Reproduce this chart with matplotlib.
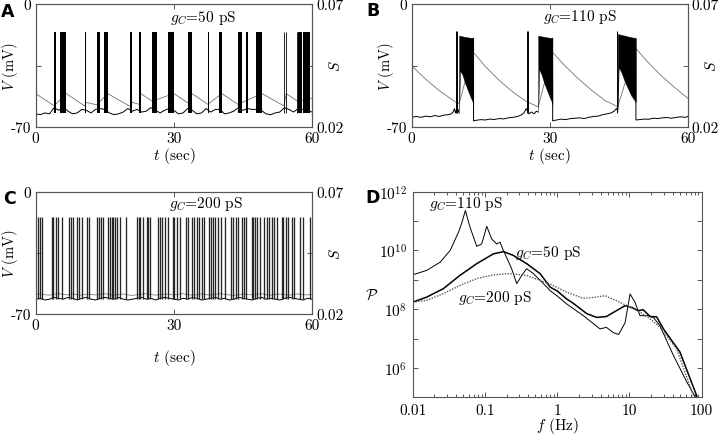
import matplotlib
matplotlib.use('Agg')
import matplotlib.pyplot as plt
import numpy as np

plt.rcParams['mathtext.fontset'] = 'cm'
plt.rcParams['font.family'] = 'cmr10'
plt.rcParams['axes.formatter.use_mathtext'] = True
plt.rcParams['font.size'] = 11
plt.rcParams['axes.edgecolor'] = '#555555'
plt.rcParams['axes.linewidth'] = 0.8
plt.rcParams['xtick.color'] = '#555555'
plt.rcParams['ytick.color'] = '#555555'
plt.rcParams['xtick.labelcolor'] = 'black'
plt.rcParams['ytick.labelcolor'] = 'black'

# ---------------- panel A (gC = 50 pS) ----------------
t_A = list(range(61))
base_A = [-62.5, -63.0, -62.0, -62.5, -59.0, -60.5, -58.5, -61.0, -62.5, -62.0,
          -60.0, -60.5, -62.0, -60.0, -59.5, -60.0, -62.0, -63.0, -62.5, -61.5,
          -59.5, -61.0, -60.0, -61.5, -61.0, -59.0, -60.5, -62.0, -60.5, -59.5,
          -60.5, -62.5, -62.0, -59.5, -60.5, -62.5, -62.0, -59.5, -61.5, -60.0,
          -60.0, -62.5, -62.0, -61.0, -59.0, -60.5, -59.5, -60.0, -60.0, -60.5,
          -62.5, -63.0, -62.0, -61.5, -59.0, -60.0, -61.5, -59.5, -60.0, -60.5, -61.5]
burst_A_start = [4.0, 5.3, 10.6, 13.3, 14.8, 20.5, 22.5, 25.3, 28.8, 33.1, 37.4,
                 39.7, 43.9, 45.7, 47.8, 57.0, 58.1]
burst_A_end = [4.4, 6.6, 11.0, 13.9, 15.6, 21.0, 22.8, 26.3, 30.0, 33.9, 37.7,
               40.4, 44.8, 46.1, 49.1, 57.8, 59.5]
spikes_A = [53.9, 54.4, 56.8]
tS_A = [0, 4.0, 6.6, 10.6, 11.0, 13.3, 15.6, 20.5, 21.0, 22.5, 22.8, 25.3, 30.0,
        33.1, 33.9, 37.4, 40.4, 43.9, 49.1, 53.9, 54.4, 57.0, 59.5, 60]
S_A = [0.0336, 0.0286, 0.0336, 0.0286, 0.0300, 0.0290, 0.0336, 0.0284, 0.0300,
       0.0292, 0.0336, 0.0305, 0.0336, 0.0297, 0.0336, 0.0292, 0.0336, 0.0292,
       0.0336, 0.0286, 0.0336, 0.0303, 0.0318, 0.0315]

# ---------------- panel B (gC = 110 pS) ----------------
nan = np.nan
t_B = [0, 1, 2, 3, 4, 5, 6, 7, 8, 8.6, 9.0, 9.3, 9.5, 9.7, 9.9, 10.1, 10.3, nan,
       13.4, 13.45, 14, 15, 16, 17, 18, 19, 20, 21, 22, 23,
       23.8, 24.4, 24.9, 25.5, 26, 26.6, 27.1, 27.5, nan,
       30.6, 30.65, 31.5, 32.5, 33.5, 34.5, 35.5, 36.5, 37.5, 38.5, 39.5, 40.5, 41.5, 42.5,
       43.3, 44.0, 44.5, 44.8, nan,
       48.7, 48.75, 49.5, 50.5, 51.5, 52.5, 53.5, 54.5, 55.5, 56.5, 57.5, 58.5, 59.5, 60]
V_B = [-64.5, -64.0, -64.5, -63.8, -64.2, -63.5, -64.0, -63.2, -63.0,
       -62.5, -61.5, -59.5, -62.0, -60.5, -61.5, -60.0, -62.0, nan,
       -19.5, -66.5, -66.2, -65.8, -66.0, -65.5, -65.7, -65.2, -65.4, -64.8, -64.5, -64.0,
       -63.2, -62.0, -59.5, -62.5, -61.5, -62.5, -61.0, -61.5, nan,
       -19.5, -66.5, -66.0, -65.5, -65.8, -65.2, -65.0, -64.8, -65.2, -64.5, -64.0, -63.8, -63.0, -62.5,
       -62.0, -61.0, -59.5, -61.0, nan,
       -19.5, -66.0, -65.8, -65.5, -65.6, -65.0, -65.2, -64.8, -64.6, -65.0, -64.5, -64.2, -64.5, -64.0]
burst_B_t = [[10.3, 10.5, 11.0, 11.6, 12.2, 12.8, 13.3, 13.4],
             [27.5, 27.7, 28.2, 28.8, 29.4, 30.0, 30.5, 30.6],
             [44.8, 45.0, 45.6, 46.3, 47.0, 47.7, 48.5, 48.7]]
burst_B_hi = [[-18.0, -18.1, -18.4, -18.7, -19.0, -19.2, -19.3, -19.4],
              [-18.0, -18.1, -18.4, -18.7, -19.0, -19.2, -19.3, -19.4],
              [-17.0, -17.2, -17.6, -18.0, -18.5, -18.9, -19.3, -19.5]]
burst_B_lo = [[-62, -38, -40, -45, -49, -53, -56, -57],
              [-61, -37, -40, -45, -49, -53, -56, -57],
              [-60, -36, -39, -44, -48, -52, -55, -56]]
spikes_B = [9.6, 9.85, 25.0, 25.25, 44.6]
tS_B = [0, 3, 6, 9.4, 10.3, 13.4, 16, 19, 22, 25, 27.5, 30.6, 33, 36, 39, 42, 44.6, 44.8,
        48.7, 51, 54, 57, 60]
S_B = [0.0449, 0.0395, 0.0348, 0.0303, 0.0296, 0.0504, 0.0446, 0.0390, 0.0342, 0.0303,
       0.0282, 0.0504, 0.0455, 0.0400, 0.0351, 0.0308, 0.0284, 0.0283,
       0.0520, 0.0470, 0.0413, 0.0363, 0.0317]

# ---------------- panel C (gC = 200 pS) ----------------
t_C = list(range(61))
base_C = [-61.5, -61.0, -62.0, -61.5, -60.5, -61.0, -61.5, -60.5, -61.0, -62.0,
          -61.0, -60.5, -61.5, -62.0, -61.0, -60.5, -61.0, -61.5, -60.5, -61.5,
          -62.0, -61.5, -61.0, -60.5, -61.5, -61.0, -62.0, -61.0, -60.5, -61.0,
          -61.5, -62.0, -61.0, -61.5, -60.5, -61.0, -62.0, -61.5, -61.0, -60.5,
          -61.5, -61.0, -62.0, -61.5, -60.5, -61.0, -61.5, -62.0, -61.0, -60.5,
          -61.5, -61.0, -61.5, -62.0, -61.0, -60.5, -61.0, -61.5, -62.0, -61.0, -61.5]
S_C = [0.0280, 0.0282, 0.0279, 0.0277, 0.0281, 0.0283, 0.0280, 0.0278, 0.0282, 0.0279,
       0.0277, 0.0281, 0.0280, 0.0278, 0.0282, 0.0283, 0.0279, 0.0277, 0.0280, 0.0282,
       0.0278, 0.0276, 0.0279, 0.0281, 0.0283, 0.0280, 0.0277, 0.0279, 0.0282, 0.0280,
       0.0278, 0.0281, 0.0283, 0.0279, 0.0277, 0.0280, 0.0282, 0.0279, 0.0277, 0.0281,
       0.0283, 0.0280, 0.0278, 0.0276, 0.0279, 0.0282, 0.0280, 0.0278, 0.0281, 0.0283,
       0.0279, 0.0277, 0.0280, 0.0282, 0.0279, 0.0277, 0.0280, 0.0282, 0.0279, 0.0278, 0.0280]
spikes_C = [0.57, 0.93, 1.29, 3.46, 3.82, 4.4, 4.9, 5.6, 7.3, 7.66, 8.16, 8.9, 9.46, 9.97,
            11.2, 11.6, 13.2, 13.7, 14.2, 14.5, 15.6, 16.1, 16.5, 16.8, 17.2, 17.7, 18.3,
            19.5, 21.9, 22.3, 22.6, 23.2, 24.1, 24.4, 24.9, 26.6, 27.0, 27.5, 28.0, 28.6,
            29.7, 30.1, 30.6, 31.2, 32.6, 33.1, 33.8, 34.3, 34.9, 35.5, 36.0, 36.4, 37.7,
            38.0, 38.4, 38.9, 39.6, 40.3, 41.1, 42.4, 42.9, 43.4, 43.9, 44.7, 45.2, 45.6,
            46.9, 47.2, 47.6, 48.1, 48.7, 49.6, 50.1, 50.7, 51.2, 51.7, 52.3, 53.4, 53.7,
            54.3, 54.8, 55.5, 56.0, 57.3, 57.9, 59.5]

# ---------------- panel D: power spectra (log10 P) ----------------
f_110 = [0.01, 0.0156, 0.024, 0.033, 0.043, 0.048, 0.0536, 0.058, 0.0622, 0.0769, 0.09,
         0.106, 0.124, 0.1455, 0.162, 0.18, 0.234, 0.275, 0.323, 0.378, 0.468, 0.645,
         0.8, 1.0, 1.35, 2.3, 3.9, 4.8, 6.0, 7.1, 8.7, 10.2, 11.9, 14, 18.2, 21.4,
         26.4, 40.5, 62, 81, 90]
lp_110 = [9.17, 9.32, 9.60, 10.0, 10.62, 10.95, 11.36, 11.05, 10.79, 10.14, 10.22,
          10.82, 10.39, 10.22, 10.28, 10.0, 9.38, 8.87, 9.15, 9.38, 9.21, 8.87,
          8.63, 8.45, 8.18, 7.78, 7.33, 7.38, 7.2, 7.14, 7.54, 8.52, 8.24, 7.78, 7.78, 7.72,
          7.44, 6.43, 5.53, 5.02, 4.6]
f_50 = [0.01, 0.0156, 0.0266, 0.045, 0.077, 0.13, 0.18, 0.247, 0.378, 0.58, 0.8, 1.0,
        1.35, 1.67, 2.56, 3.5, 4.8, 6.6, 8.7, 11, 13.2, 15.5, 19.3, 23.8, 29.5, 50, 85, 92]
lp_50 = [8.24, 8.41, 8.70, 9.15, 9.55, 9.88, 9.96, 9.83, 9.55, 9.21, 8.75, 8.62,
         8.35, 8.2, 7.85, 7.72, 7.75, 7.95, 8.12, 8.05, 7.95, 7.98, 7.75, 7.74, 7.33,
         6.54, 5.06, 4.6]
f_200 = [0.01, 0.0156, 0.0266, 0.045, 0.077, 0.13, 0.22, 0.378, 0.58, 0.79, 1.35, 2.3,
         3.2, 4.6, 6.6, 10.2, 14, 19.3, 26.4, 45, 76.6, 85]
lp_200 = [8.24, 8.30, 8.53, 8.81, 9.04, 9.17, 9.21, 9.15, 8.98, 8.86, 8.58, 8.37,
          8.40, 8.46, 8.29, 8.07, 7.9, 7.67, 7.39, 6.65, 5.06, 4.6]

W, H = 720.0, 435.0
fig = plt.figure(figsize=(7.2, 4.35), dpi=100)


def box(x0, y0, x1, y1):
    return [x0 / W, 1 - y1 / H, (x1 - x0) / W, (y1 - y0) / H]


def trace_axes(rect, xlabpad):
    ax = fig.add_axes(rect)
    ax2 = ax.twinx()
    ax.set_zorder(ax2.get_zorder() + 1)
    ax.patch.set_visible(False)
    ax.set_xlim(0, 60)
    ax.set_ylim(-70, 0)
    ax.set_xticks([0, 30, 60])
    ax.set_xticklabels(['0', '30', '60'])
    ax.set_yticks([-70, -35, 0])
    ax.set_yticklabels(['-70', '', '0'])
    ax.tick_params(direction='in', top=True, length=3.5, width=0.7, pad=3)
    ax2.set_ylim(0.02, 0.07)
    ax2.set_yticks([0.02, 0.045, 0.07])
    ax2.set_yticklabels(['0.02', '', '0.07'])
    ax2.tick_params(direction='in', length=3.5, width=0.7, pad=3)
    ax.set_xlabel(r'$t$ (sec)', labelpad=xlabpad)
    ax.set_ylabel(r'$V$ (mV)', fontsize=10.5)
    ax.yaxis.set_label_coords(-0.057, 0.5)
    ax2.set_ylabel(r'$S$')
    ax2.yaxis.set_label_coords(1.058, 0.5)
    return ax, ax2


# A
axA, axA2 = trace_axes(box(35.7, 5, 312, 128), 0)
axA2.plot(tS_A, S_A, color='0.45', lw=0.6)
axA.plot(t_A, base_A, color='k', lw=0.7)
axA.bar(burst_A_start, 46, width=np.array(burst_A_end) - np.array(burst_A_start),
        bottom=-62, align='edge', color='k', linewidth=0)
axA.vlines(spikes_A, -62, -16, color='k', lw=0.6)
axA.text(0.606, 0.898, r'$g_C$=50 pS', transform=axA.transAxes, ha='center', va='center')

# B
axB, axB2 = trace_axes(box(411.7, 5, 687.7, 128), 0)
axB2.plot(tS_B, S_B, color='0.45', lw=0.6)
axB.plot(t_B, V_B, color='k', lw=0.7)
for bt, blo, bhi in zip(burst_B_t, burst_B_lo, burst_B_hi):
    axB.fill_between(bt, blo, bhi, color='k', linewidth=0.3)
axB.vlines(spikes_B, -62, -15.5, color='k', lw=0.7)
axB.text(0.61, 0.902, r'$g_C$=110 pS', transform=axB.transAxes, ha='center', va='center')

# C
axC, axC2 = trace_axes(box(35.7, 192.7, 312.3, 315), 11)
axC2.plot(t_C, S_C, color='0.5', lw=0.6)
axC.plot(t_C, base_C, color='k', lw=0.7)
axC.vlines(spikes_C, -61.5, -14.7, color='0.15', lw=0.95)
axC.text(0.617, 0.907, r'$g_C$=200 pS', transform=axC.transAxes, ha='center', va='center')

# D
axD = fig.add_axes(box(412.7, 192.7, 701.7, 398.3))
axD.plot(f_110, 10.0 ** np.array(lp_110), color='k', lw=0.7)
axD.plot(f_50, 10.0 ** np.array(lp_50), color='k', lw=1.1)
axD.plot(f_200, 10.0 ** np.array(lp_200), color='0.35', lw=1.0, ls=(0, (1, 1)))
axD.set_xscale('log')
axD.set_yscale('log')
axD.set_xlim(0.01, 100)
axD.set_ylim(1e5, 1e12)
axD.set_xticks([0.01, 0.1, 1, 10, 100])
axD.set_xticklabels(['0.01', '0.1', '1', '10', '100'])
axD.set_yticks([10.0 ** k for k in range(5, 13)])
axD.set_yticklabels(['', r'$10^{6}$', '', r'$10^{8}$', '', r'$10^{10}$', '', r'$10^{12}$'])
axD.yaxis.set_minor_locator(matplotlib.ticker.NullLocator())
axD.tick_params(which='both', direction='in', top=True, right=True, width=0.7)
axD.tick_params(which='major', length=3.5, pad=4)
axD.tick_params(which='minor', length=2)
axD.set_xlabel(r'$f$ (Hz)', labelpad=-1)
axD.set_ylabel(r'$\mathcal{P}$', rotation=0, va='center')
axD.yaxis.set_label_coords(-0.141, 0.497)
axD.text(0.183, 0.945, r'$g_C$=110 pS', transform=axD.transAxes, ha='center', va='center')
axD.text(0.47, 0.709, r'$g_C$=50 pS', transform=axD.transAxes, ha='center', va='center')
axD.text(0.283, 0.49, r'$g_C$=200 pS', transform=axD.transAxes, ha='center', va='center')

# panel letters
for lab, x, y in [('A', 7.5, 12), ('B', 373, 11), ('C', 9, 199), ('D', 373, 198)]:
    fig.text(x / W, 1 - y / H, lab, family='DejaVu Sans', weight='bold', fontsize=12.5,
             ha='center', va='center')

fig.savefig('out.png', dpi=100)
